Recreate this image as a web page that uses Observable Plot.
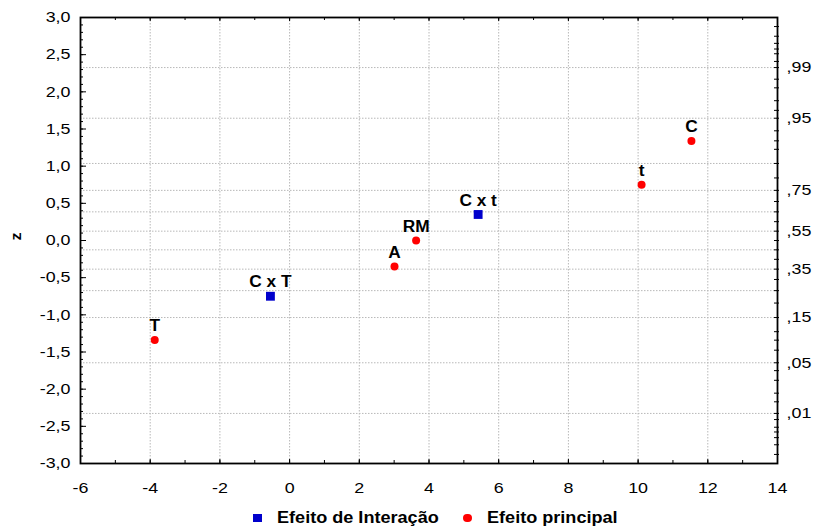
<!DOCTYPE html>
<html>
<head>
<meta charset="utf-8">
<script src="https://cdn.jsdelivr.net/npm/d3@7"></script>
<script src="https://cdn.jsdelivr.net/npm/@observablehq/plot@0.6"></script>
<style>
  body { margin: 0; background: #fff; }
  #chart { position: relative; width: 816px; height: 531px; font-family: "Liberation Sans", Arial, sans-serif; }
  #chart svg { position: absolute; left: 0; top: 0; }
  .lg-sym { position: absolute; }
  .lg-txt { position: absolute; font-weight: bold; font-size: 16px; line-height: 16px; white-space: nowrap;
            transform: scaleX(1.13); transform-origin: left center; color: #000; }
</style>
</head>
<body>
<div id="chart"></div>
<script>
// Effect estimates and their expected normal scores
const effects   = ["T", "C x T", "A", "RM", "C x t", "t", "C"];
const estimates = [-3.87, -0.55, 3.01, 3.63, 5.41, 10.10, 11.53];
const zScores   = [-1.34, -0.75, -0.35, 0.0, 0.35, 0.75, 1.34];
const kinds     = ["principal", "interacao", "principal", "principal", "interacao", "principal", "principal"];

// Axis ticks
const xTicks = [-6, -4, -2, 0, 2, 4, 6, 8, 10, 12, 14];
const yTicks = [-3, -2.5, -2, -1.5, -1, -0.5, 0, 0.5, 1, 1.5, 2, 2.5, 3];
// Probability scale on the right
const probLabels = [0.01, 0.05, 0.15, 0.35, 0.55, 0.75, 0.95, 0.99];
const probGrid   = [0.01, 0.05, 0.15, 0.25, 0.35, 0.45, 0.55, 0.65, 0.75, 0.85, 0.95, 0.99];
const probMinor  = [0.002, 0.003, 0.004, 0.005, 0.006, 0.008, 0.01, 0.015, 0.02, 0.03, 0.04, 0.05,
                    0.07, 0.09, 0.11, 0.15, 0.2, 0.25, 0.3, 0.35, 0.4, 0.45, 0.5,
                    0.55, 0.6, 0.65, 0.7, 0.75, 0.8, 0.85, 0.89, 0.91, 0.93, 0.95, 0.96, 0.97,
                    0.98, 0.985, 0.99, 0.992, 0.994, 0.995, 0.996, 0.997, 0.998];

const legendItems = [
  { key: "interacao", label: "Efeito de Interação", color: "#0000cc" },
  { key: "principal", label: "Efeito principal", color: "#ff0000" }
];

// Inverse of the standard normal CDF (Acklam's rational approximation)
function probit(p) {
  const a = [-3.969683028665376e+01, 2.209460984245205e+02, -2.759285104469687e+02, 1.383577518672690e+02, -3.066479806614716e+01, 2.506628277459239e+00];
  const b = [-5.447609879822406e+01, 1.615858368580409e+02, -1.556989798598866e+02, 6.680131188771972e+01, -1.328068155288572e+01];
  const c = [-7.784894002430293e-03, -3.223964580411365e-01, -2.400758277161838e+00, -2.549671010229297e+00, 4.374664141464968e+00, 2.938163982698783e+00];
  const d = [7.784695709041462e-03, 3.224671290700398e-01, 2.445134137142996e+00, 3.754408661907416e+00];
  const pl = 0.02425, ph = 1 - pl;
  let q, r;
  if (p < pl) {
    q = Math.sqrt(-2 * Math.log(p));
    return (((((c[0]*q+c[1])*q+c[2])*q+c[3])*q+c[4])*q+c[5]) / ((((d[0]*q+d[1])*q+d[2])*q+d[3])*q+1);
  }
  if (p <= ph) {
    q = p - 0.5; r = q * q;
    return (((((a[0]*r+a[1])*r+a[2])*r+a[3])*r+a[4])*r+a[5])*q / (((((b[0]*r+b[1])*r+b[2])*r+b[3])*r+b[4])*r+1);
  }
  q = Math.sqrt(-2 * Math.log(1 - p));
  return -(((((c[0]*q+c[1])*q+c[2])*q+c[3])*q+c[4])*q+c[5]) / ((((d[0]*q+d[1])*q+d[2])*q+d[3])*q+1);
}

const data = effects.map((name, i) => ({ name, x: estimates[i], z: zScores[i], kind: kinds[i] }));

const W = 816, H = 500;
const mL = 80, mR = 39, mT = 17, mB = 37;
const frameW = W - mL - mR, frameH = H - mT - mB;

const yMinor = d3.range(-30, 31).map(k => k / 10);
const xMinor = d3.range(-6, 15);
const grid = { stroke: "#b8b8b8", strokeDasharray: "1.5,1.5", strokeWidth: 1 };

const chart = Plot.plot({
  width: W, height: H,
  marginLeft: mL, marginRight: mR, marginTop: mT, marginBottom: mB,
  style: { fontFamily: "'Liberation Sans', Arial, sans-serif", fontSize: "15px", background: "white", color: "black", overflow: "visible" },
  x: { domain: [-6, 14] },
  y: { domain: [-3, 3] },
  marks: [
    // dotted grid
    Plot.ruleX(xTicks.filter(v => v > -6 && v < 14), grid),
    Plot.ruleY(probGrid.map(probit), grid),
    // inward ticks: left
    Plot.ruleY(yMinor, { stroke: "black", insetRight: frameW - 3 }),
    Plot.ruleY(yTicks, { stroke: "black", insetRight: frameW - 6 }),
    // bottom and top
    Plot.ruleX(xMinor, { stroke: "black", insetTop: frameH - 3 }),
    Plot.ruleX(xTicks, { stroke: "black", insetTop: frameH - 4 }),
    Plot.ruleX(xMinor, { stroke: "black", insetBottom: frameH - 3 }),
    Plot.ruleX(xTicks, { stroke: "black", insetBottom: frameH - 4 }),
    // right probability ticks
    Plot.ruleY(probMinor.map(probit), { stroke: "black", insetLeft: frameW - 3, insetRight: -2 }),
    Plot.frame({ stroke: "black", strokeWidth: 1.8 }),
    // axes
    Plot.axisX({ ticks: xTicks, tickSize: 0, tickPadding: 19, tickFormat: d => String(d), label: null, fontSize: 15 }),
    Plot.axisY({ ticks: yTicks, tickSize: 0, tickPadding: 10, tickFormat: d => d.toFixed(1).replace(".", ","), label: null, fontSize: 15 }),
    Plot.text(probLabels, {
      y: p => probit(p),
      text: p => "," + String(Math.round(p * 100)).padStart(2, "0"),
      frameAnchor: "right", textAnchor: "start", dx: 9, fontSize: 15
    }),
    Plot.text(["z"], { frameAnchor: "left", dx: -64, rotate: -90, fontWeight: "bold", fontSize: 15 }),
    // effects
    Plot.dot(data.filter(d => d.kind === "principal"), { x: "x", y: "z", r: 4, fill: "#ff0000", stroke: null }),
    Plot.dot(data.filter(d => d.kind === "interacao"), { x: "x", y: "z", r: 5, symbol: "square", fill: "#0000cc", stroke: null }),
    Plot.text(data, { x: "x", y: "z", text: "name", dy: -14, fontWeight: "bold", fontSize: 16, fill: "black" })
  ]
});

const root = document.getElementById("chart");
root.appendChild(chart);

// Widen the glyphs horizontally
chart.querySelectorAll("text").forEach(t => {
  const w = t.getComputedTextLength();
  if (!(w > 0)) return;
  const bold = +getComputedStyle(t).fontWeight >= 600;
  t.setAttribute("textLength", (w * (bold ? 1.08 : 1.19)).toFixed(2));
  t.setAttribute("lengthAdjust", "spacingAndGlyphs");
});

// Legend below the plot
const legendPos = { interacao: { sym: 253, txt: 277 }, principal: { sym: 463, txt: 487 } };
legendItems.forEach(item => {
  const pos = legendPos[item.key];
  const sym = document.createElement("div");
  sym.className = "lg-sym";
  sym.style.left = pos.sym + "px";
  sym.style.top = "513.5px";
  sym.style.width = "8.5px";
  sym.style.height = "8.5px";
  sym.style.background = item.color;
  if (item.key === "principal") sym.style.borderRadius = "50%";
  root.appendChild(sym);
  const txt = document.createElement("div");
  txt.className = "lg-txt";
  txt.style.left = pos.txt + "px";
  txt.style.top = "510px";
  txt.textContent = item.label;
  root.appendChild(txt);
});
</script>
</body>
</html>
